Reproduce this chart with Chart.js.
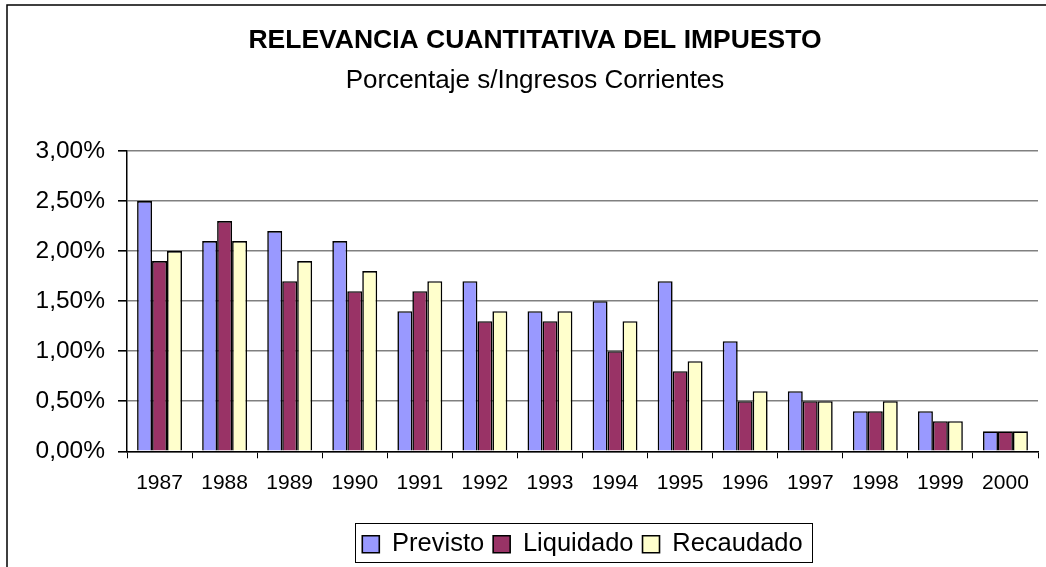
<!DOCTYPE html>
<html>
<head>
<meta charset="utf-8">
<script src="https://cdn.jsdelivr.net/npm/chart.js@4"></script>
<style>
  html, body { margin: 0; padding: 0; background: #fff; }
  #wrap { width: 1046px; height: 567px; }
</style>
</head>
<body>
<div id="wrap"><canvas id="grafico" width="1046" height="567"></canvas></div>
<script>
// datos
const years = ['1987', '1988', '1989', '1990', '1991', '1992', '1993', '1994', '1995', '1996', '1997', '1998', '1999', '2000'];
const previsto = [2.5, 2.1, 2.2, 2.1, 1.4, 1.7, 1.4, 1.5, 1.7, 1.1, 0.6, 0.4, 0.4, 0.2];
const liquidado = [1.9, 2.3, 1.7, 1.6, 1.6, 1.3, 1.3, 1.0, 0.8, 0.5, 0.5, 0.4, 0.3, 0.2];
const recaudado = [2.0, 2.1, 1.9, 1.8, 1.7, 1.4, 1.4, 1.3, 0.9, 0.6, 0.5, 0.5, 0.3, 0.2];
const yTicks = [0, 0.5, 1, 1.5, 2, 2.5, 3];

const fuente = "'Liberation Sans', Arial, sans-serif";

// marco del grafico y recuadro de la leyenda
const marcos = {
  id: 'marcos',
  afterDraw(chart) {
    const ctx = chart.ctx;
    ctx.save();
    ctx.strokeStyle = '#000';
    ctx.lineWidth = 1.5;
    ctx.strokeRect(7, 5, 1100, 700);
    const boxes = chart.legend.legendHitBoxes;
    if (boxes && boxes.length) {
      const first = boxes[0];
      const last = boxes[boxes.length - 1];
      const x1 = first.left - 7;
      const x2 = last.left + last.width + 10;
      const cy = first.top + first.height / 2;
      ctx.lineWidth = 1;
      ctx.strokeRect(Math.round(x1) + 0.5, Math.round(cy - 21) + 0.5, Math.round(x2 - x1), 39);
    }
    ctx.restore();
  }
};

const config = {
  type: 'bar',
  data: {
    labels: years,
    datasets: [
      { label: 'Previsto', data: previsto, backgroundColor: '#9999FF', borderColor: '#000', borderWidth: 1.6 },
      { label: 'Liquidado', data: liquidado, backgroundColor: '#993366', borderColor: '#000', borderWidth: 1.6 },
      { label: 'Recaudado', data: recaudado, backgroundColor: '#FFFFCC', borderColor: '#000', borderWidth: 1.6 }
    ]
  },
  options: {
    responsive: false,
    animation: false,
    devicePixelRatio: 1,
    layout: { padding: { left: 32, right: 8, top: 11, bottom: 0 } },
    datasets: { bar: { categoryPercentage: 0.69, barPercentage: 1 } },
    plugins: {
      tooltip: { enabled: false },
      title: {
        display: true,
        text: 'RELEVANCIA CUANTITATIVA DEL IMPUESTO',
        color: '#000',
        font: { family: fuente, size: 26.5, weight: 'bold' },
        padding: { top: 14, bottom: 6 }
      },
      subtitle: {
        display: true,
        text: 'Porcentaje s/Ingresos Corrientes',
        color: '#000',
        font: { family: fuente, size: 26 },
        padding: { top: 2, bottom: 55 }
      },
      legend: {
        position: 'bottom',
        fullSize: false,
        labels: {
          color: '#000',
          font: { family: fuente, size: 25.5 },
          boxWidth: 17,
          boxHeight: 17,
          padding: 9,
          useBorderRadius: false
        }
      }
    },
    scales: {
      x: {
        afterFit(scale) { scale.height = scale.height + 15; },
        grid: { display: true, drawOnChartArea: false, offset: true, tickLength: 7, tickColor: '#000', color: '#000' },
        border: { color: '#000', width: 1.5 },
        ticks: { color: '#000', font: { family: fuente, size: 21 }, padding: 12, maxRotation: 0 }
      },
      y: {
        min: 0,
        max: 3,
        afterFit(scale) { scale.width = 95; },
        afterBuildTicks(scale) { scale.ticks = yTicks.map(v => ({ value: v })); },
        grid: { color: '#808080', lineWidth: 1.6, tickLength: 9, tickColor: '#000' },
        border: { color: '#000', width: 1.5 },
        ticks: {
          color: '#000',
          font: { family: fuente, size: 24.5 },
          padding: 13,
          callback: v => v.toFixed(2).replace('.', ',') + '%'
        }
      }
    }
  },
  plugins: [marcos]
};

new Chart(document.getElementById('grafico').getContext('2d'), config);
</script>
</body>
</html>
